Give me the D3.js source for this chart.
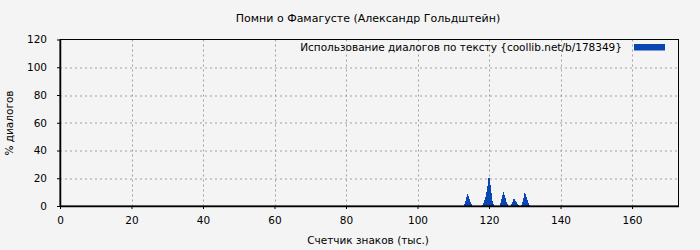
<!DOCTYPE html>
<html>
<head>
<meta charset="utf-8">
<script src="https://cdn.jsdelivr.net/npm/d3@7"></script>
<style>
  body { margin: 0; background: #f4f4f4; }
  svg { display: block; font-family: "DejaVu Sans", sans-serif; }
</style>
</head>
<body>
<div id="chart"></div>
<script>
// данные: счетчик знаков (тыс.) и % диалогов
const xValues = [112, 112.5, 113, 113.5, 114, 114.5, 115, 115.5, 116, 116.5, 117, 117.5,
  118, 118.5, 119, 119.5, 120, 120.5, 121, 121.5, 122, 122.5, 123, 123.5, 124, 124.5,
  125, 125.5, 126, 126.5, 127, 127.5, 128, 128.5, 129, 129.5, 130, 130.5, 131, 131.5, 132];
const dialogPct = [0, 0, 0, 4.5, 9, 5, 1.5, 0, 0, 0, 0, 0,
  0, 2.5, 6, 13, 22.8, 14, 3, 0, 0, 0, 0, 5, 10.8, 7,
  2, 0, 0, 2.5, 5.8, 3.5, 1, 0, 0, 4, 10, 6.5, 2, 0, 0];
const xTicks = [0, 20, 40, 60, 80, 100, 120, 140, 160];
const yTicks = [0, 20, 40, 60, 80, 100, 120];

const title = 'Помни о Фамагусте (Александр Гольдштейн)';
const legendLabel = 'Использование диалогов по тексту {coollib.net/b/178349}';
const xLabel = 'Счетчик знаков (тыс.)';
const yLabel = '% диалогов';

const width = 700, height = 250;
const margin = {top: 39.5, right: 21.5, bottom: 44, left: 60};
const innerWidth = width - margin.left - margin.right;
const innerHeight = height - margin.top - margin.bottom;
const barColor = '#0a46b2';

const svg = d3.select('#chart').append('svg')
  .attr('width', width)
  .attr('height', height);

svg.append('rect')
  .attr('width', width).attr('height', height)
  .attr('fill', '#f4f4f4');

const g = svg.append('g')
  .attr('transform', `translate(${margin.left},${margin.top})`);

const x = d3.scaleLinear().domain([0, 173]).range([0, innerWidth]);
const y = d3.scaleLinear().domain([0, 120]).range([innerHeight, 0]);

// сетка
g.append('g')
  .selectAll('line')
  .data(xTicks.filter(d => d > 0))
  .join('line')
  .attr('x1', d => Math.round(x(d)) + 0.5).attr('x2', d => Math.round(x(d)) + 0.5)
  .attr('y1', 0).attr('y2', innerHeight)
  .attr('stroke', '#a0a0a0')
  .attr('stroke-dasharray', '2,3');

g.append('g')
  .selectAll('line')
  .data(yTicks.filter(d => d > 0 && d < 120))
  .join('line')
  .attr('x1', 0).attr('x2', innerWidth)
  .attr('y1', d => Math.round(y(d)) + 0.5).attr('y2', d => Math.round(y(d)) + 0.5)
  .attr('stroke', '#a0a0a0')
  .attr('stroke-dasharray', '2,3');

// область данных
const area = d3.area()
  .x((d, i) => x(xValues[i]))
  .y0(y(0))
  .y1(d => y(d));

g.append('path')
  .datum(dialogPct)
  .attr('d', area)
  .attr('fill', barColor)
  .attr('shape-rendering', 'crispEdges');

// рамка
g.append('rect')
  .attr('x', 0).attr('y', 0)
  .attr('width', innerWidth).attr('height', innerHeight)
  .attr('fill', 'none')
  .attr('stroke', '#000')
  .attr('stroke-width', 1);

// оси
const xAxis = g.append('g')
  .attr('transform', `translate(0,${innerHeight})`)
  .call(d3.axisBottom(x).tickValues(xTicks).tickSize(3).tickPadding(8).tickSizeOuter(0));
const yAxis = g.append('g')
  .call(d3.axisLeft(y).tickValues(yTicks).tickSize(3).tickPadding(10).tickSizeOuter(0));

[xAxis, yAxis].forEach(a => {
  a.select('.domain').attr('stroke', '#000').attr('stroke-width', 1.5);
  a.selectAll('.tick line').attr('stroke', '#000');
  a.selectAll('.tick text')
    .attr('fill', '#000')
    .style('font-size', '10.5px')
    .style('font-family', '"DejaVu Sans", sans-serif');
});

// легенда
g.append('text')
  .attr('x', 562).attr('y', 11.5)
  .attr('text-anchor', 'end')
  .style('font-size', '10.5px')
  .text(legendLabel);
g.append('rect')
  .attr('x', 574).attr('y', 4.5)
  .attr('width', 31).attr('height', 6.5)
  .attr('fill', barColor);

// подписи
svg.append('text')
  .attr('x', 368).attr('y', 22)
  .attr('text-anchor', 'middle')
  .style('font-size', '11px')
  .text(title);

svg.append('text')
  .attr('x', 368).attr('y', 244)
  .attr('text-anchor', 'middle')
  .style('font-size', '10.5px')
  .text(xLabel);

svg.append('text')
  .attr('transform', 'translate(13,123) rotate(-90)')
  .attr('text-anchor', 'middle')
  .style('font-size', '10.5px')
  .text(yLabel);
</script>
</body>
</html>
